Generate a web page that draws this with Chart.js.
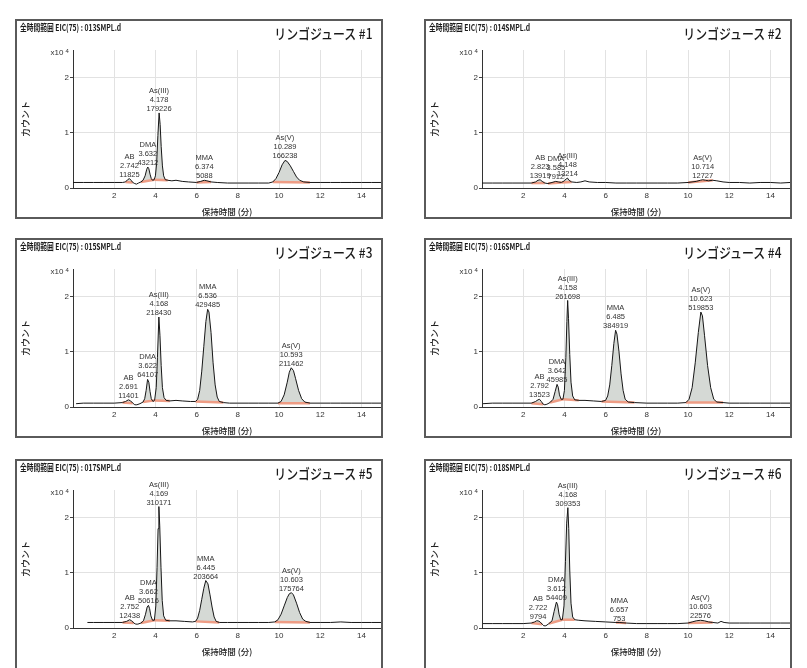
<!DOCTYPE html>
<html lang="ja">
<head>
<meta charset="UTF-8">
<title>リンゴジュース EIC(75)</title>
<script src="https://cdn.jsdelivr.net/npm/chart.js"></script>
<style>
  body { margin: 0; background: #fff; width: 807px; height: 668px; overflow: hidden; position: relative; }
  .panel { position: absolute; width: 368px; height: 200px; border: 2px solid #5a5a5a; box-sizing: border-box; background: #fff; }
  .panel canvas { position: absolute; left: 0; top: 0; }
  .src { position: absolute; left: 3px; top: 0; line-height: 12px; font: 600 9px "Noto Sans CJK JP", sans-serif; color: #1a1a1a; transform: scaleX(0.75); transform-origin: left; white-space: nowrap; z-index: 2; }
  .name { position: absolute; right: 9px; top: 2px; line-height: 20px; font: 500 14px "Noto Sans CJK JP", sans-serif; color: #1a1a1a; transform: scaleX(0.85); transform-origin: right; white-space: nowrap; z-index: 2; }
  #p1 { left: 15px; top: 19px; }
  #p2 { left: 424px; top: 19px; }
  #p3 { left: 15px; top: 238px; }
  #p4 { left: 424px; top: 238px; }
  #p5 { left: 15px; top: 459px; height: 215px; }
  #p6 { left: 424px; top: 459px; height: 215px; }
</style>
</head>
<body>
<div class="panel" id="p1"><div class="src"></div><div class="name"></div><canvas id="c1" width="364" height="196"></canvas></div>
<div class="panel" id="p2"><div class="src"></div><div class="name"></div><canvas id="c2" width="364" height="196"></canvas></div>
<div class="panel" id="p3"><div class="src"></div><div class="name"></div><canvas id="c3" width="364" height="196"></canvas></div>
<div class="panel" id="p4"><div class="src"></div><div class="name"></div><canvas id="c4" width="364" height="196"></canvas></div>
<div class="panel" id="p5"><div class="src"></div><div class="name"></div><canvas id="c5" width="364" height="196"></canvas></div>
<div class="panel" id="p6"><div class="src"></div><div class="name"></div><canvas id="c6" width="364" height="196"></canvas></div>
<script>
// sample titles and data files
const panelTitles = ['リンゴジュース #1', 'リンゴジュース #2', 'リンゴジュース #3', 'リンゴジュース #4', 'リンゴジュース #5', 'リンゴジュース #6'];
const dataFiles = ['013SMPL.d', '014SMPL.d', '015SMPL.d', '016SMPL.d', '017SMPL.d', '018SMPL.d'];
const peakNames = ['AB', 'DMA', 'As(III)', 'MMA', 'As(V)'];

// EIC traces, [time (min), counts x10^4]
const trace1 = [[0,.10],[0.5,.10],[1,.10],[1.5,.10],[2,.10],[2.4,.10],[2.55,.11],[2.65,.15],[2.74,.17],[2.82,.14],[2.9,.10],[3,.08],[3.08,.07],[3.18,.09],[3.3,.11],[3.4,.14],[3.5,.22],[3.58,.34],[3.63,.38],[3.68,.35],[3.74,.25],[3.8,.17],[3.86,.14],[3.94,.15],[4,.22],[4.06,.45],[4.12,.95],[4.18,1.36],[4.23,1.15],[4.28,.75],[4.34,.40],[4.4,.22],[4.48,.15],[4.6,.14],[4.8,.13],[5,.14],[5.3,.12],[5.6,.11],[6,.10],[6.2,.12],[6.37,.14],[6.5,.13],[6.7,.11],[7,.10],[7.5,.09],[8,.09],[8.5,.09],[9,.09],[9.5,.09],[9.7,.11],[9.85,.17],[10,.28],[10.15,.42],[10.29,.50],[10.4,.48],[10.55,.40],[10.7,.30],[10.85,.20],[11,.14],[11.2,.11],[11.5,.10],[12,.10],[12.5,.10],[13,.10],[13.5,.10],[14,.10],[14.5,.10],[14.95,.10]];
const trace2 = [[0,.09],[0.5,.09],[1,.09],[1.5,.09],[2,.09],[2.4,.09],[2.6,.11],[2.72,.14],[2.82,.15],[2.92,.12],[3.05,.09],[3.2,.08],[3.4,.10],[3.58,.12],[3.7,.11],[3.85,.10],[4,.13],[4.1,.17],[4.148,.18],[4.22,.14],[4.35,.11],[4.6,.10],[4.8,.11],[5,.13],[5.2,.11],[5.6,.10],[6,.10],[6.5,.09],[7,.09],[7.5,.09],[8,.09],[8.5,.09],[9,.09],[9.5,.09],[10,.10],[10.4,.12],[10.6,.14],[10.714,.15],[10.85,.14],[11,.13],[11.2,.14],[11.4,.13],[11.7,.11],[12,.10],[12.5,.10],[13,.09],[13.5,.10],[14,.10],[14.5,.09],[14.95,.10]];
const trace3 = [[0.15,.06],[0.5,.07],[1,.07],[1.5,.07],[2,.07],[2.4,.08],[2.55,.10],[2.69,.13],[2.8,.11],[2.9,.07],[3,.04],[3.1,.04],[3.25,.06],[3.4,.09],[3.48,.15],[3.55,.30],[3.62,.50],[3.68,.45],[3.74,.28],[3.8,.15],[3.88,.10],[3.96,.12],[4.04,.35],[4.1,.90],[4.168,1.63],[4.22,1.30],[4.28,.75],[4.34,.35],[4.42,.17],[4.52,.12],[4.7,.11],[5,.12],[5.3,.11],[5.7,.10],[5.95,.10],[6.05,.14],[6.15,.30],[6.25,.65],[6.35,1.10],[6.45,1.55],[6.536,1.77],[6.6,1.72],[6.7,1.35],[6.8,.80],[6.9,.40],[7,.18],[7.1,.10],[7.3,.08],[7.6,.07],[8,.07],[8.5,.07],[9,.07],[9.5,.07],[9.95,.07],[10.1,.10],[10.25,.22],[10.4,.45],[10.5,.63],[10.593,.71],[10.7,.66],[10.8,.52],[10.95,.30],[11.1,.15],[11.25,.09],[11.5,.07],[12,.07],[12.5,.07],[13,.07],[13.5,.07],[14,.07],[14.5,.07],[14.95,.07]];
const trace4 = [[0.05,.06],[0.5,.07],[1,.07],[1.5,.07],[2,.07],[2.4,.07],[2.6,.10],[2.72,.13],[2.79,.14],[2.88,.10],[2.97,.05],[3.05,.04],[3.15,.05],[3.3,.08],[3.45,.14],[3.55,.28],[3.642,.41],[3.7,.36],[3.76,.22],[3.84,.14],[3.93,.14],[4,.30],[4.07,.90],[4.12,1.55],[4.158,1.93],[4.2,1.60],[4.26,.95],[4.32,.45],[4.4,.20],[4.5,.13],[4.7,.12],[5,.12],[5.4,.11],[5.8,.10],[6,.12],[6.1,.20],[6.2,.40],[6.3,.75],[6.4,1.15],[6.485,1.39],[6.55,1.32],[6.65,1.00],[6.75,.60],[6.85,.30],[6.95,.14],[7.1,.09],[7.4,.08],[8,.07],[8.5,.07],[9,.07],[9.5,.07],[9.9,.08],[10.05,.14],[10.2,.35],[10.35,.80],[10.5,1.35],[10.623,1.72],[10.7,1.65],[10.8,1.30],[10.95,.75],[11.1,.35],[11.25,.14],[11.4,.09],[11.7,.08],[12,.07],[12.5,.07],[13,.07],[13.5,.07],[14,.07],[14.5,.07],[14.95,.07]];
const trace5 = [[0.7,.10],[1,.10],[1.5,.10],[2,.10],[2.4,.10],[2.6,.12],[2.752,.15],[2.85,.13],[2.95,.09],[3.05,.07],[3.15,.07],[3.3,.09],[3.42,.13],[3.52,.25],[3.6,.38],[3.662,.41],[3.72,.35],[3.78,.22],[3.86,.14],[3.95,.14],[4.02,.40],[4.08,1.10],[4.13,1.80],[4.169,2.20],[4.21,1.85],[4.27,1.10],[4.33,.50],[4.4,.22],[4.5,.14],[4.7,.13],[5,.13],[5.4,.12],[5.8,.11],[5.95,.12],[6.05,.18],[6.15,.32],[6.25,.52],[6.35,.72],[6.445,.86],[6.55,.80],[6.65,.60],[6.75,.38],[6.85,.20],[6.95,.12],[7.1,.10],[7.5,.10],[8,.10],[8.5,.10],[9,.10],[9.5,.10],[9.8,.11],[9.95,.15],[10.1,.25],[10.25,.40],[10.4,.55],[10.5,.62],[10.603,.64],[10.7,.60],[10.85,.45],[11,.28],[11.15,.16],[11.3,.12],[11.5,.10],[12,.10],[12.5,.10],[13,.11],[13.5,.10],[14,.10],[14.5,.10],[14.95,.10]];
const trace6 = [[0.05,.08],[0.5,.08],[1,.08],[1.5,.08],[2,.08],[2.4,.09],[2.55,.11],[2.65,.13],[2.722,.13],[2.82,.11],[2.92,.07],[3,.04],[3.1,.04],[3.25,.08],[3.4,.13],[3.5,.30],[3.612,.47],[3.67,.42],[3.74,.25],[3.82,.15],[3.9,.15],[3.98,.40],[4.05,1.20],[4.11,1.90],[4.168,2.18],[4.21,1.80],[4.26,1.05],[4.32,.45],[4.4,.20],[4.5,.15],[4.7,.14],[5,.13],[5.5,.12],[6,.11],[6.5,.10],[6.657,.10],[7,.09],[7.5,.08],[8,.08],[8.5,.08],[9,.08],[9.5,.08],[10,.09],[10.2,.11],[10.4,.13],[10.603,.14],[10.8,.13],[11,.11],[11.2,.10],[11.45,.09],[11.6,.12],[11.75,.10],[12,.09],[12.5,.09],[13,.09],[13.5,.09],[14,.09],[14.5,.09],[14.95,.09]];

// retention times and peak areas (AB, DMA, As(III), MMA, As(V))
const rt1 = [2.742, 3.632, 4.178, 6.374, 10.289];
const rt2 = [2.823, 3.585, 4.148, null, 10.714];
const rt3 = [2.691, 3.622, 4.168, 6.536, 10.593];
const rt4 = [2.792, 3.642, 4.158, 6.485, 10.623];
const rt5 = [2.752, 3.662, 4.169, 6.445, 10.603];
const rt6 = [2.722, 3.612, 4.168, 6.657, 10.603];
const area1 = [11825, 43212, 179226, 5088, 166238];
const area2 = [13919, 7912, 13214, null, 12727];
const area3 = [11401, 64107, 218430, 429485, 211462];
const area4 = [13523, 45985, 261698, 384919, 519853];
const area5 = [12438, 50616, 310171, 203664, 175764];
const area6 = [9794, 54409, 309353, 753, 22576];

// integration windows (start, end) in min
const win1 = [[2.55, 2.9], [3.3, 3.94], [3.94, 4.6], [6, 6.7], [9.7, 11.5]];
const win2 = [[2.4, 3.05], [3.2, 3.85], [3.85, 4.35], null, [10, 11.2]];
const win3 = [[2.4, 2.9], [3.4, 3.96], [3.96, 4.7], [5.95, 7.3], [9.95, 11.5]];
const win4 = [[2.4, 2.97], [3.3, 3.93], [3.93, 4.7], [5.8, 7.4], [9.9, 11.7]];
const win5 = [[2.4, 2.95], [3.3, 3.95], [3.95, 4.7], [5.95, 7.1], [9.8, 11.5]];
const win6 = [[2.4, 2.92], [3.25, 3.9], [3.9, 4.5], [6.5, 7], [10, 11.2]];

const SANS = '"Liberation Sans", Arial, sans-serif';
const CJK = '"Noto Sans CJK JP", sans-serif';
Chart.defaults.font.family = SANS;

// peak labels + "x10^4" multiplier
const peakLabels = {
  id: 'peakLabels',
  afterDatasetsDraw(chart, args, opts) {
    const { ctx, chartArea, scales: { x, y } } = chart;
    ctx.save();
    ctx.fillStyle = '#333';
    ctx.font = '7.5px ' + SANS;
    ctx.textAlign = 'center';
    ctx.textBaseline = 'middle';
    opts.peaks.forEach(p => {
      const px = x.getPixelForValue(p.rt);
      const py = y.getPixelForValue(p.top) - 4;
      [p.name, p.rt.toFixed(3), String(p.area)].forEach((t, k) => ctx.fillText(t, px, py - (2 - k) * 9));
    });
    ctx.font = '8px ' + SANS;
    ctx.textAlign = 'right';
    ctx.fillText('x10', chartArea.left - 9.5, chartArea.top + 3);
    ctx.font = '6px ' + SANS;
    ctx.textAlign = 'left';
    ctx.fillText('4', chartArea.left - 7.5, chartArea.top + 1);
    ctx.restore();
  }
};

function makePanel(n, trace, rt, area, win) {
  const box = document.getElementById('p' + n);
  box.querySelector('.src').textContent = '全時間範囲 EIC(75) : ' + dataFiles[n - 1];
  box.querySelector('.name').textContent = panelTitles[n - 1];

  const bases = [], fills = [], peaks = [];
  win.forEach((w, i) => {
    if (!w) return;
    const seg = trace.filter(p => p[0] >= w[0] && p[0] <= w[1]);
    bases.push({ data: [seg[0], seg[seg.length - 1]], borderColor: '#ee9c84', borderWidth: 2.5, pointRadius: 0, fill: false });
    fills.push({ data: seg, borderWidth: 0, pointRadius: 0, backgroundColor: '#d5d9d5' });
    peaks.push({ name: peakNames[i], rt: rt[i], area: area[i], top: Math.max(...seg.map(p => p[1])) });
  });
  const datasets = [{ data: trace, borderColor: '#161616', borderWidth: 1, pointRadius: 0, fill: false }];
  bases.forEach(b => datasets.push(b));
  fills.forEach((f, i) => { f.fill = 1 + i; datasets.push(f); });

  new Chart(document.getElementById('c' + n), {
    type: 'line',
    data: { datasets },
    plugins: [peakLabels],
    options: {
      responsive: false,
      animation: false,
      events: [],
      layout: { padding: { top: 29, right: 0, left: 0, bottom: 0 } },
      plugins: { legend: { display: false }, tooltip: { enabled: false }, peakLabels: { peaks } },
      scales: {
        x: {
          type: 'linear', min: 0, max: 14.95,
          afterFit: s => { s.height = 29; },
          border: { color: '#333', width: 1 },
          grid: { color: '#e2e2e2', drawTicks: false },
          ticks: { stepSize: 2, includeBounds: false, padding: 3, maxRotation: 0, color: '#333', font: { size: 8 },
                   callback: v => v === 0 ? '' : v },
          title: { display: true, text: '保持時間 (分)', color: '#222', font: { size: 8.5, family: CJK, weight: '500' }, padding: { top: 0, bottom: 0 } }
        },
        y: {
          type: 'linear', min: 0, max: 2.5,
          afterFit: s => { s.width = 56; },
          border: { color: '#333', width: 1 },
          grid: { color: '#e2e2e2', tickColor: '#444', tickLength: 3 },
          ticks: { stepSize: 1, includeBounds: false, padding: 1, color: '#333', font: { size: 8 } },
          title: { display: true, text: 'カウント', color: '#222', font: { size: 9, family: CJK, weight: '500' }, padding: { top: 3, bottom: 0 } }
        }
      }
    }
  });
}

makePanel(1, trace1, rt1, area1, win1);
makePanel(2, trace2, rt2, area2, win2);
makePanel(3, trace3, rt3, area3, win3);
makePanel(4, trace4, rt4, area4, win4);
makePanel(5, trace5, rt5, area5, win5);
makePanel(6, trace6, rt6, area6, win6);
</script>
</body>
</html>
